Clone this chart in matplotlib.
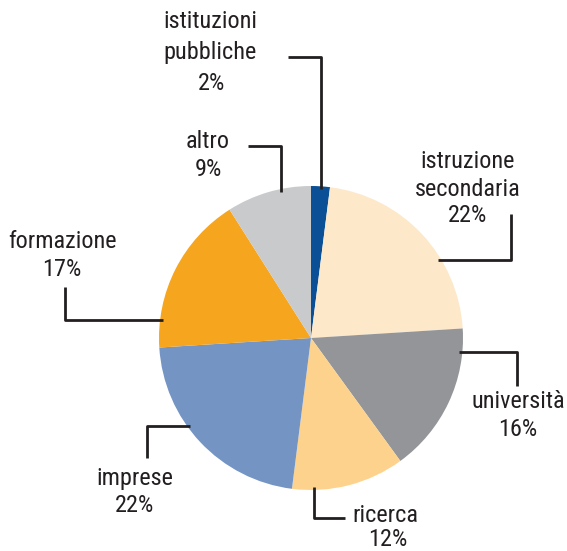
import matplotlib
matplotlib.use("Agg")
import matplotlib.pyplot as plt
from matplotlib import font_manager
import numpy as np

labels = ["istituzioni\npubbliche", "istruzione\nsecondaria", "università", "ricerca",
          "imprese", "formazione", "altro"]
values = [2, 22, 16, 12, 22, 17, 9]
colors = ["#0b4f97", "#fde8c9", "#939598", "#fdd28c", "#7494c4", "#f6a51f", "#c8cacc"]

W, H = 567, 551
fig = plt.figure(figsize=(W / 100, H / 100), dpi=100)
ax = fig.add_axes([0, 0, 1, 1])

def Y(py):
    return H - py

cx, cy, R = 311, Y(338), 152
ax.pie(values, colors=colors, startangle=90, counterclock=False,
       center=(cx, cy), radius=R, frame=True,
       wedgeprops=dict(linewidth=0))
ax.set_xlim(0, W)
ax.set_ylim(0, H)
ax.set_aspect("equal")
ax.axis("off")

names = {f.name for f in font_manager.fontManager.ttflist}
cands = [n for n in ["Liberation Sans Narrow", "Roboto Condensed", "Open Sans Condensed",
                     "DejaVu Sans Condensed"] if n in names]
FONT = cands + ["DejaVu Sans"]
fs = 17.5
lc = "#231f20"
lw = 2.0

def circle_x(y, side):
    dy = y - cy
    return cx + side * np.sqrt(max(R * R - dy * dy, 0))

def circle_y(x, side):
    dx = x - cx
    return cy + side * np.sqrt(max(R * R - dx * dx, 0))

kw = dict(color=lc, lw=lw, solid_capstyle="butt")
x0 = 321
ax.plot([x0, x0, 288], [circle_y(x0, 1) - 3, Y(57), Y(57)], **kw)
x0 = 281
ax.plot([x0, x0, 248], [circle_y(x0, 1) - 3, Y(146), Y(146)], **kw)
y0 = Y(260)
ax.plot([circle_x(y0, 1) - 3, 511, 511], [y0, y0, Y(214)], **kw)
y0 = Y(352)
ax.plot([circle_x(y0, 1) - 3, 517, 517], [y0, y0, Y(386)], **kw)
x0 = 314
ax.plot([x0, x0, 345], [circle_y(x0, -1) + 3, Y(518), Y(518)], **kw)
y0 = Y(426)
ax.plot([circle_x(y0, -1) + 3, 147, 147], [y0, y0, Y(458)], **kw)
y0 = Y(320)
ax.plot([circle_x(y0, -1) + 3, 65, 65], [y0, y0, Y(287)], **kw)

def txt(x, y, s, ha="center"):
    ax.text(x, Y(y), s, ha=ha, va="center", fontsize=fs, family=FONT, color=lc,
            stretch="condensed")

txt(210, 22, "istituzioni")
txt(210, 53, "pubbliche")
txt(212, 84, f"{values[0]}%")
txt(208, 141, "altro")
txt(208, 170, f"{values[6]}%")
txt(468, 162, "istruzione")
txt(468, 189, "secondaria")
txt(468, 216, f"{values[1]}%")
txt(518, 402, "università")
txt(518, 429, f"{values[2]}%")
txt(352, 516, "ricerca", ha="left")
txt(388, 540, f"{values[3]}%")
txt(135, 478, "imprese")
txt(135, 505, f"{values[4]}%")
txt(62, 242, "formazione")
txt(62, 269, f"{values[5]}%")

fig.savefig("out.png", dpi=100)
